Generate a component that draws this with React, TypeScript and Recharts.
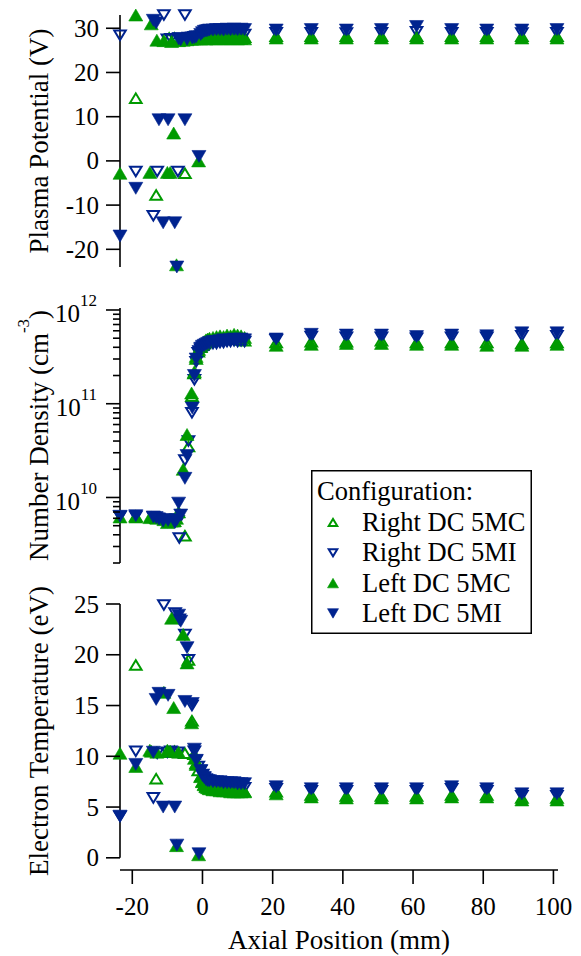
import React from 'react';
import { ScatterChart, Scatter, XAxis, YAxis, Legend, ReferenceLine } from 'recharts';

const FONT = "'Liberation Serif', 'Times New Roman', Times, serif";
const GREEN = '#009a00';
const BLUE = '#00238f';

// ---------- axes ----------
const xDomain: [number, number] = [-23.5, 101.3];
const xTicks = [-20, 0, 20, 40, 60, 80, 100];
const vDomain: [number, number] = [-24, 33];
const vTicks = [-20, -10, 0, 10, 20, 30];
const nDomain: [number, number] = [2e9, 1.05e12];
const nTicks = [
  2e9, 3e9, 4e9, 5e9, 6e9, 7e9, 8e9, 9e9, 1e10,
  2e10, 3e10, 4e10, 5e10, 6e10, 7e10, 8e10, 9e10, 1e11,
  2e11, 3e11, 4e11, 5e11, 6e11, 7e11, 8e11, 9e11, 1e12,
];
const teDomain: [number, number] = [-1.2, 25];
const teTicks = [0, 5, 10, 15, 20, 25];

// ---------- Right DC 5MC (open green, up) ----------
const rmcX = [-19, -13.2, -5.0, -9.5, -8.0, -4, -3, -2.4, -1.8, -1.2, -0.5, 0, 0.5, 1, 1.5, 2, 3, 4, 5, 6, 7, 8, 9, 10, 11, 12, 21, 31, 41, 51, 61, 71, 81, 91, 101];
const rmcV = [14.2, -7.7, -2.8, 27.8, 27.8, 27.9, 27.9, 28.0, 28.0, 28.0, 28.0, 28.0, 28.1, 28.0, 28.1, 28.0, 28.1, 28.0, 28.1, 28.0, 28.1, 28.0, 28.1, 28.0, 28.1, 28.0, 28.2, 28.2, 28.2, 28.2, 28.2, 28.2, 28.2, 28.2, 28.2];
const rmcN = [6.3e9, 6.0e9, 3.9e9, 5.8e9, 5.6e9, 3.5e10, 1.2e11, 2.1e11, 3.0e11, 3.6e11, 4.0e11, 4.2e11, 4.4e11, 4.5e11, 4.6e11, 4.7e11, 4.8e11, 4.9e11, 4.9e11, 5.0e11, 5.0e11, 4.9e11, 5.0e11, 4.9e11, 4.8e11, 4.7e11, 4.5e11, 4.6e11, 4.6e11, 4.7e11, 4.5e11, 4.5e11, 4.5e11, 4.4e11, 4.5e11];
const rmcTe = [19.0, 7.8, 10.3, 10.4, 10.5, 19.5, 13.5, 10.2, 9.3, 8.6, 8.0, 7.5, 7.2, 7.0, 6.9, 6.8, 6.7, 6.7, 6.7, 6.6, 6.6, 6.6, 6.6, 6.5, 6.5, 6.5, 6.5, 6.2, 6.1, 6.1, 6.1, 6.2, 6.2, 5.9, 5.9];

// ---------- Right DC 5MI (open blue, down) ----------
const rmiX = [-23.5, -19, -14, -12.9, -11, -10, -9, -7.8, -7, -6.6, -5, -4, -3, -2.3, -1.8, -1.2, -0.5, 0, 0.5, 1, 1.5, 2, 3, 4, 5, 6, 7, 8, 9, 10, 11, 12, 21, 31, 41, 51, 61, 71, 81, 91, 101];
const rmiV = [28.4, -2.4, -12.4, -2.4, 33, 27.5, 27.6, 27.6, -2.4, 27.8, 33, 27.9, 27.9, 28.0, 28.0, 28.1, 28.2, 28.3, 28.3, 28.4, 28.4, 28.5, 28.4, 28.5, 28.6, 28.5, 28.6, 28.5, 28.6, 28.6, 28.5, 28.6, 29.0, 29.0, 28.9, 29.0, 29.2, 29.0, 29.0, 28.9, 29.0];
const rmiN = [6.3e9, 6.3e9, 6.2e9, 6.0e9, 5.8e9, 5.5e9, 5.9e9, 5.5e9, 5.6e9, 3.7e9, 2.5e10, 4.0e10, 8.0e10, 1.8e11, 2.8e11, 3.5e11, 3.8e11, 4.0e11, 4.1e11, 4.2e11, 4.2e11, 4.3e11, 4.4e11, 4.4e11, 4.5e11, 4.5e11, 4.6e11, 4.6e11, 4.7e11, 4.6e11, 4.7e11, 4.6e11, 4.8e11, 5.2e11, 5.1e11, 5.1e11, 5.0e11, 5.1e11, 5.1e11, 5.3e11, 5.3e11];
const rmiTe = [4.1, 10.5, 5.9, 10.3, 24.9, 10.4, 10.5, 24.1, 10.4, 23.5, 22.0, 19.5, 15.0, 10.5, 9.6, 9.0, 8.6, 8.2, 7.9, 7.7, 7.6, 7.5, 7.4, 7.3, 7.2, 7.2, 7.1, 7.1, 7.0, 7.0, 7.0, 6.9, 6.8, 6.6, 6.6, 6.6, 6.6, 6.8, 6.6, 6.1, 6.1];

// ---------- Left DC 5MC (filled green, up) ----------
const lmcX = [-23.5, -19, -15, -14.6, -13, -11, -10, -9.2, -8.8, -8.2, -7.4, -6.8, -5.5, -4.4, -3.1, -2.3, -1.8, -1.1, -0.5, 0, 0.5, 1, 1.5, 2, 3, 4, 5, 6, 7, 8, 9, 10, 11, 12, 21, 31, 41, 51, 61, 71, 81, 91, 101];
const lmcV = [-2.8, 33, -2.6, 31.0, 27.3, 27.2, -2.6, -2.6, 27.0, 6.3, -23.5, 27.2, 27.3, 27.4, 27.5, 27.6, 27.6, 0.0, 27.6, 27.7, 27.7, 27.6, 27.7, 27.6, 27.7, 27.6, 27.7, 27.6, 27.7, 27.6, 27.7, 27.6, 27.7, 27.6, 27.8, 27.8, 27.8, 27.8, 27.8, 27.8, 27.8, 27.8, 27.8];
const lmcN = [6.2e9, 6.2e9, 6.1e9, 6.2e9, 6.0e9, 5.8e9, 5.4e9, 5.6e9, 5.8e9, 5.6e9, 6.0e9, 7.0e9, 2.0e10, 4.7e10, 1.3e11, 2.2e11, 3.2e11, 3.8e11, 4.2e11, 4.4e11, 4.6e11, 4.8e11, 4.9e11, 5.0e11, 5.1e11, 5.2e11, 5.3e11, 5.2e11, 5.4e11, 5.3e11, 5.5e11, 5.4e11, 5.3e11, 5.1e11, 4.2e11, 4.3e11, 4.4e11, 4.4e11, 4.3e11, 4.3e11, 4.2e11, 4.2e11, 4.3e11];
const lmcTe = [10.3, 9.0, 10.6, 10.5, 10.4, 16.3, 10.6, 10.5, 23.6, 14.8, 1.2, 10.4, 22.0, 19.2, 13.3, 9.8, 9.2, 0.3, 8.0, 7.5, 7.2, 7.0, 6.9, 6.8, 6.7, 6.7, 6.6, 6.6, 6.6, 6.5, 6.5, 6.5, 6.5, 6.5, 6.3, 6.0, 5.9, 5.9, 5.9, 6.0, 6.0, 5.7, 5.7];

// ---------- Left DC 5MI (filled blue, down) ----------
const lmiX = [-23.5, -19, -14, -13.2, -12.4, -11.2, -9.8, -7.9, -7.3, -6.8, -6.2, -5, -4.4, -2.9, -2.3, -1.8, -1, -0.5, 0, 0.5, 1, 1.5, 2, 3, 4, 5, 6, 7, 8, 9, 10, 11, 12, 21, 31, 41, 51, 61, 71, 81, 91, 101];
const lmiV = [-17, -6.2, 31.8, 31.2, 9.3, -14, 9.3, -14, -24, 27.6, 27.4, 9.3, 27.5, 27.8, 27.9, 28.1, 1.0, 28.6, 29.0, 29.3, 29.4, 29.5, 29.6, 29.6, 29.7, 29.7, 29.6, 29.8, 29.7, 29.8, 29.7, 29.8, 29.7, 29.6, 29.7, 29.6, 29.7, 30.4, 29.7, 29.6, 29.6, 29.7];
const lmiN = [6.3e9, 6.4e9, 6.2e9, 6.1e9, 5.9e9, 5.6e9, 5.7e9, 5.4e9, 5.8e9, 8.7e9, 6.5e9, 1.6e10, 2.8e10, 9.0e10, 2.0e11, 3.0e11, 3.6e11, 3.9e11, 4.1e11, 4.2e11, 4.3e11, 4.4e11, 4.5e11, 4.6e11, 4.6e11, 4.7e11, 4.8e11, 4.7e11, 4.8e11, 4.9e11, 4.8e11, 4.9e11, 4.8e11, 4.9e11, 5.5e11, 5.4e11, 5.4e11, 5.2e11, 5.4e11, 5.3e11, 5.7e11, 5.7e11];
const lmiTe = [4.1, 9.2, 10.4, 15.6, 16.2, 5.0, 16.0, 5.0, 1.25, 23.9, 23.3, 15.4, 20.7, 15.2, 10.7, 9.6, 0.4, 8.6, 8.1, 7.9, 7.7, 7.6, 7.6, 7.5, 7.5, 7.5, 7.4, 7.4, 7.4, 7.4, 7.3, 7.3, 7.3, 7.0, 6.8, 6.8, 6.8, 6.8, 7.0, 6.8, 6.3, 6.3];

type Pt = { x: number; y: number };
const zip = (xs: number[], ys: number[]): Pt[] => xs.map((x, i) => ({ x, y: ys[i] }));

const SERIES = [
  { name: 'Right DC 5MC', xs: rmcX, v: rmcV, n: rmcN, te: rmcTe, up: true, filled: false, color: GREEN },
  { name: 'Right DC 5MI', xs: rmiX, v: rmiV, n: rmiN, te: rmiTe, up: false, filled: false, color: BLUE },
  { name: 'Left DC 5MC', xs: lmcX, v: lmcV, n: lmcN, te: lmcTe, up: true, filled: true, color: GREEN },
  { name: 'Left DC 5MI', xs: lmiX, v: lmiV, n: lmiN, te: lmiTe, up: false, filled: true, color: BLUE },
];

const Tri = ({ cx, cy, up, filled, color, w = 14, h = 12 }: any) => {
  if (cx == null || cy == null || isNaN(cx) || isNaN(cy)) return null;
  const hw = filled ? w / 2 : (w - 2.4) / 2;
  const hh = filled ? h / 2 : (h - 2.4) / 2;
  const pts = up
    ? `${cx - hw},${cy + hh} ${cx + hw},${cy + hh} ${cx},${cy - hh}`
    : `${cx - hw},${cy - hh} ${cx + hw},${cy - hh} ${cx},${cy + hh}`;
  return (
    <polygon
      points={pts}
      fill={filled ? color : 'none'}
      stroke={color}
      strokeWidth={filled ? 0.6 : 2}
      strokeLinejoin="miter"
    />
  );
};

const LinTick = (props: any) => {
  const { x, y, payload } = props;
  return (
    <g>
      <line x1={x - 14} y1={y} x2={x} y2={y} stroke="#000" strokeWidth={1.6} />
      <text x={x - 21} y={y + 8.5} textAnchor="end" fontSize={25} fontFamily={FONT} fill="#000">
        {String(payload.value)}
      </text>
    </g>
  );
};

const LogTick = (props: any) => {
  const { x, y, payload } = props;
  const e = Math.log10(payload.value);
  const major = Math.abs(e - Math.round(e)) < 1e-6;
  return (
    <g>
      <line x1={x - (major ? 14 : 7)} y1={y} x2={x} y2={y} stroke="#000" strokeWidth={1.6} />
      {major && (
        <text x={x - 23} y={y + 12.5} textAnchor="end" fontSize={25} fontFamily={FONT} fill="#000">
          <tspan>10</tspan>
          <tspan fontSize={17} dy={-16}>{String(Math.round(e))}</tspan>
        </text>
      )}
    </g>
  );
};

const XTick = (props: any) => {
  const { x, y, payload } = props;
  return (
    <g>
      <line x1={x} y1={y} x2={x} y2={y + 14} stroke="#000" strokeWidth={1.6} />
      <text x={x} y={y + 45} textAnchor="middle" fontSize={25} fontFamily={FONT} fill="#000">
        {String(payload.value)}
      </text>
    </g>
  );
};

const YTitle = ({ cy, title, sup, tail }: any) => (
  <text
    transform={`translate(48, ${cy}) rotate(-90)`}
    textAnchor="middle"
    fontSize={27}
    fontFamily={FONT}
    fill="#000"
  >
    <tspan>{title}</tspan>
    {sup ? <tspan fontSize={17} dy={-19}>{sup}</tspan> : null}
    {tail ? <tspan dy={sup ? 19 : 0}>{tail}</tspan> : null}
  </text>
);

const XTitle = ({ midX, baseY, title }: any) => (
  <text x={midX} y={baseY} textAnchor="middle" fontSize={27} fontFamily={FONT} fill="#000">
    {title}
  </text>
);

const LegendBox = (props: any) => {
  const payload: any[] = props.payload || [];
  return (
    <svg width={221} height={164} style={{ display: 'block' }}>
      <rect x={0.75} y={0.75} width={219.5} height={162.5} fill="#fff" stroke="#000" strokeWidth={1.5} />
      <text x={6} y={30} fontSize={26.5} fontFamily={FONT} fill="#000">Configuration:</text>
      {SERIES.map((s, i) => {
        const p = payload.find((q) => q.value === s.name);
        const color = (p && p.color) || s.color;
        const by = 61 + i * 30.3;
        return (
          <g key={s.name}>
            <Tri cx={22} cy={by - 8.5} up={s.up} filled={s.filled} color={color} w={11} h={9.5} />
            <text x={51} y={by} fontSize={26.5} fontFamily={FONT} fill="#000">{s.name}</text>
          </g>
        );
      })}
    </svg>
  );
};

const axisLine = { stroke: '#000', strokeWidth: 1.6 };

export default function App() {
  return (
    <div style={{ position: 'absolute', left: 0, top: 0, width: 581, height: 956, background: '#fff' }}>
      <div style={{ position: 'absolute', left: 0, top: 0 }}>
        <ScatterChart width={581} height={290} margin={{ top: 15, right: 23, bottom: 23, left: 0 }}>
          <XAxis type="number" dataKey="x" domain={xDomain} hide />
          <YAxis
            type="number"
            dataKey="y"
            domain={vDomain}
            ticks={vTicks}
            interval={0}
            width={120}
            tickSize={0}
            tickMargin={0}
            tickLine={false}
            axisLine={axisLine}
            tick={<LinTick />}
            label={<YTitle cy={141} title="Plasma Potential (V)" />}
          />
          {SERIES.map((s) => (
            <Scatter
              key={s.name}
              name={s.name}
              data={zip(s.xs, s.v)}
              fill={s.color}
              isAnimationActive={false}
              shape={(p: any) => <Tri cx={p.cx} cy={p.cy} up={s.up} filled={s.filled} color={s.color} />}
            />
          ))}
        </ScatterChart>
      </div>
      <div style={{ position: 'absolute', left: 0, top: 290 }}>
        <ScatterChart width={581} height={290} margin={{ top: 18, right: 23, bottom: 17, left: 0 }}>
          <XAxis type="number" dataKey="x" domain={xDomain} hide />
          <YAxis
            type="number"
            dataKey="y"
            scale="log"
            domain={nDomain}
            ticks={nTicks}
            interval={0}
            width={120}
            tickSize={0}
            tickMargin={0}
            tickLine={false}
            axisLine={axisLine}
            tick={<LogTick />}
            label={<YTitle cy={145.5} title="Number Density (cm" sup="-3" tail=")" />}
          />
          {SERIES.map((s) => (
            <Scatter
              key={s.name}
              name={s.name}
              data={zip(s.xs, s.n)}
              fill={s.color}
              isAnimationActive={false}
              shape={(p: any) => <Tri cx={p.cx} cy={p.cy} up={s.up} filled={s.filled} color={s.color} />}
            />
          ))}
          <Legend
            layout="vertical"
            align="center"
            verticalAlign="middle"
            wrapperStyle={{ left: 311, top: 180, width: 221, height: 164 }}
            content={<LegendBox />}
          />
        </ScatterChart>
      </div>
      <div style={{ position: 'absolute', left: 0, top: 580 }}>
        <ScatterChart width={581} height={376} margin={{ top: 24, right: 23, bottom: 26, left: 0 }}>
          <XAxis
            type="number"
            dataKey="x"
            domain={xDomain}
            ticks={xTicks}
            interval={0}
            height={60}
            tickSize={0}
            tickMargin={0}
            tickLine={false}
            axisLine={axisLine}
            tick={<XTick />}
            label={<XTitle midX={339} baseY={369} title="Axial Position (mm)" />}
          />
          <YAxis
            type="number"
            dataKey="y"
            domain={teDomain}
            ticks={teTicks}
            interval={0}
            width={120}
            tickSize={0}
            tickMargin={0}
            tickLine={false}
            axisLine={false}
            tick={<LinTick />}
            label={<YTitle cy={151} title="Electron Temperature (eV)" />}
          />
          <ReferenceLine
            segment={[{ x: xDomain[0], y: 0 }, { x: xDomain[0], y: 25 }]}
            stroke="#000"
            strokeWidth={1.6}
            ifOverflow="visible"
          />
          {SERIES.map((s) => (
            <Scatter
              key={s.name}
              name={s.name}
              data={zip(s.xs, s.te)}
              fill={s.color}
              isAnimationActive={false}
              shape={(p: any) => <Tri cx={p.cx} cy={p.cy} up={s.up} filled={s.filled} color={s.color} />}
            />
          ))}
        </ScatterChart>
      </div>
    </div>
  );
}
